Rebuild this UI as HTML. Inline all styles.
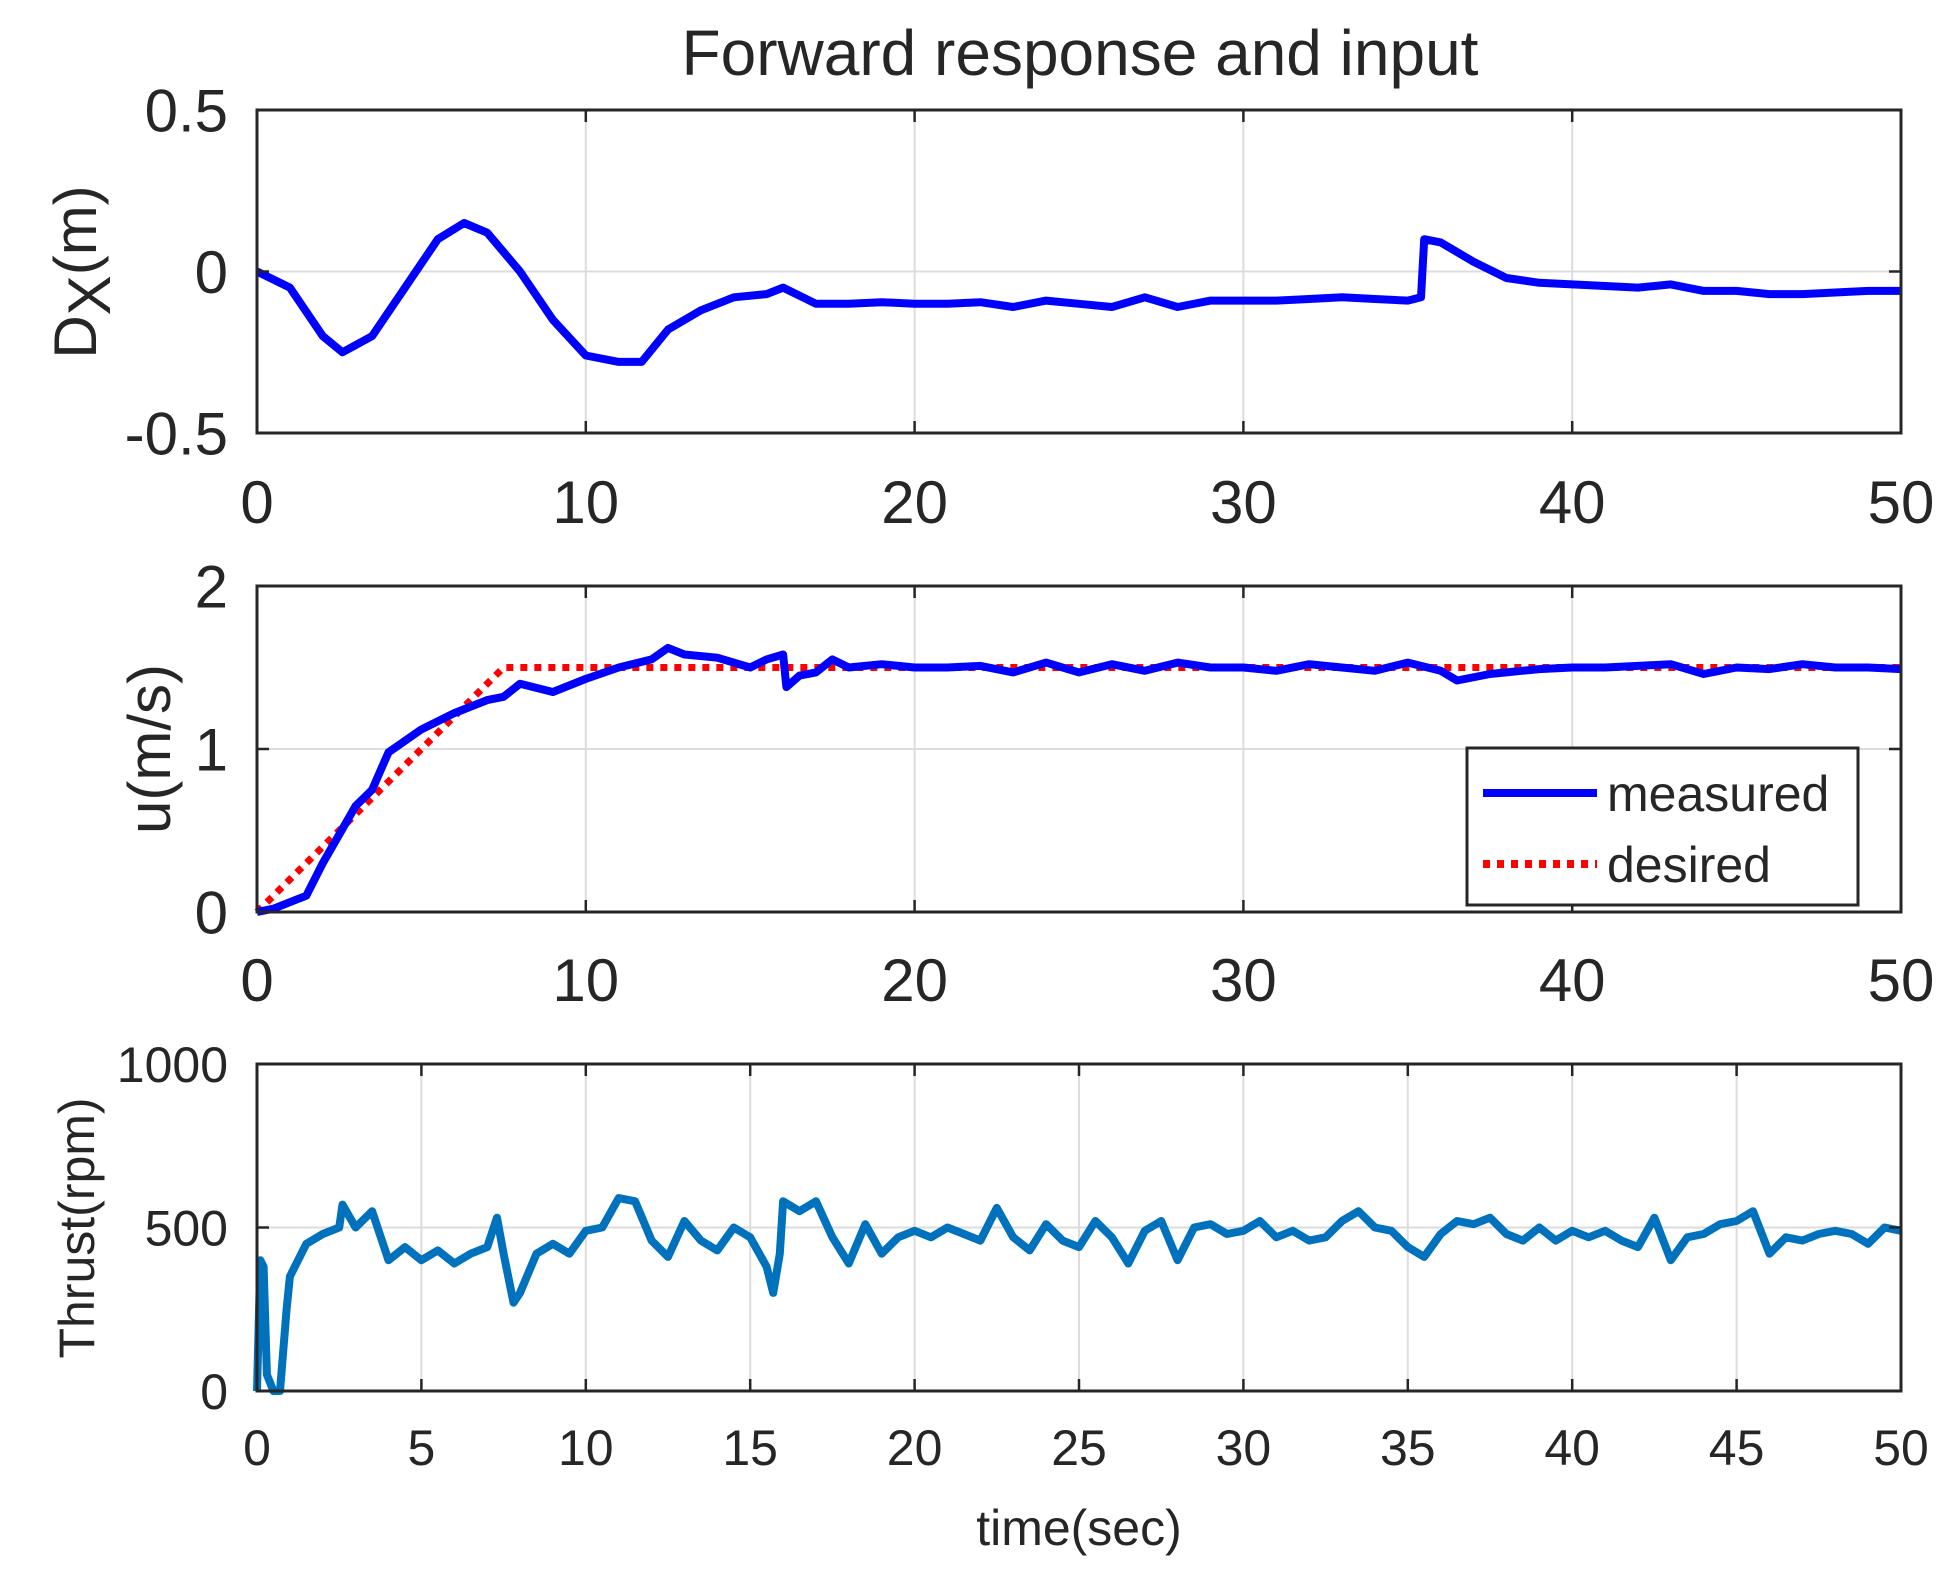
<!DOCTYPE html>
<html><head><meta charset="utf-8"><style>
html,body{margin:0;padding:0;background:#fff}
svg{display:block}
text{font-family:"Liberation Sans",Arial,sans-serif;fill:#262626}
</style></head><body>
<svg id="fig" width="1953" height="1574" viewBox="0 0 1953 1574">
<text x="1080" y="75" font-size="64" text-anchor="middle">Forward response and input</text>
<text x="1079" y="1545" font-size="50" text-anchor="middle">time(sec)</text>
<text transform="translate(96,272) rotate(-90)" font-size="60" text-anchor="middle">D<tspan font-size="60" dy="14">X</tspan><tspan dy="-14">(m)</tspan></text>
<text transform="translate(170,749) rotate(-90)" font-size="60" text-anchor="middle">u(m/s)</text>
<text transform="translate(94,1228) rotate(-90)" font-size="50" text-anchor="middle">Thrust(rpm)</text>
<g id="legend">
<rect x="1467" y="748" width="391" height="157" fill="#fff" stroke="#262626" stroke-width="3"/>
<line x1="1483" y1="793" x2="1597" y2="793" stroke="#0000ff" stroke-width="8"/>
<text x="1607" y="811" font-size="50">measured</text>
<line x1="1483" y1="864" x2="1597" y2="864" stroke="#ff0000" stroke-width="8" stroke-dasharray="7 7"/>
<text x="1607" y="882" font-size="50">desired</text>
</g>
</svg>
<script>
const dxTime=[0,1,2,2.6,3.5,4.5,5.5,6.3,7,8,9,10,11,11.7,12.5,13.5,14.5,15.5,16,17,18,19,20,21,22,23,24,25,26,27,28,29,30,31,32,33,34,35,35.4,35.5,36,37,38,39,40,41,42,43,44,45,46,47,48,49,50];
const dxValues=[0,-0.05,-0.2,-0.25,-0.2,-0.05,0.1,0.15,0.12,0,-0.15,-0.26,-0.28,-0.28,-0.18,-0.12,-0.08,-0.07,-0.05,-0.1,-0.1,-0.095,-0.1,-0.1,-0.095,-0.11,-0.09,-0.1,-0.11,-0.08,-0.11,-0.09,-0.09,-0.09,-0.085,-0.08,-0.085,-0.09,-0.08,0.1,0.09,0.03,-0.02,-0.035,-0.04,-0.045,-0.05,-0.04,-0.06,-0.06,-0.07,-0.07,-0.065,-0.06,-0.06];
const uTime=[0,0.5,1.5,2,3,3.5,4,5,6,7,7.5,8,9,10,11,12,12.5,13,14,15,15.5,16,16.1,16.5,17,17.5,18,19,20,21,22,23,24,25,26,27,28,29,30,31,32,33,34,35,36,36.5,37.5,39,40,41,42,43,44,45,46,47,48,49,50];
const uMeasured=[0,0.02,0.1,0.3,0.65,0.75,0.98,1.12,1.22,1.3,1.32,1.4,1.35,1.43,1.5,1.55,1.62,1.58,1.56,1.5,1.55,1.58,1.38,1.45,1.47,1.55,1.5,1.52,1.5,1.5,1.51,1.47,1.53,1.47,1.52,1.48,1.53,1.5,1.5,1.48,1.52,1.5,1.48,1.53,1.48,1.42,1.46,1.49,1.5,1.5,1.51,1.52,1.46,1.5,1.49,1.52,1.5,1.5,1.49];
const uDesiredTime=[0,7.5,50];
const uDesired=[0,1.5,1.5];
const thrustTime=[0,0.1,0.2,0.3,0.5,0.7,0.9,1,1.5,2,2.5,2.6,3,3.5,4,4.5,5,5.5,6,6.5,7,7.3,7.5,7.8,8,8.5,9,9.5,10,10.5,11,11.5,12,12.5,13,13.5,14,14.5,15,15.5,15.7,15.9,16,16.5,17,17.5,18,18.5,19,19.5,20,20.5,21,21.5,22,22.5,23,23.5,24,24.5,25,25.5,26,26.5,27,27.5,28,28.5,29,29.5,30,30.5,31,31.5,32,32.5,33,33.5,34,34.5,35,35.5,36,36.5,37,37.5,38,38.5,39,39.5,40,40.5,41,41.5,42,42.5,43,43.5,44,44.5,45,45.5,46,46.5,47,47.5,48,48.5,49,49.5,50];
const thrustValues=[0,400,380,50,0,0,250,350,450,480,500,570,500,550,400,440,400,430,390,420,440,530,420,270,300,420,450,420,490,500,590,580,460,410,520,460,430,500,470,380,300,420,580,550,580,470,390,510,420,470,490,470,500,480,460,560,470,430,510,460,440,520,470,390,490,520,400,500,510,480,490,520,470,490,460,470,520,550,500,490,440,410,480,520,510,530,480,460,500,460,490,470,490,460,440,530,400,470,480,510,520,550,420,470,460,480,490,480,450,500,490];
const p1Ticks=[0.5,0,-0.5], p1TickLabels=["0.5","0","-0.5"];
const p2Ticks=[0,1,2], p2TickLabels=["0","1","2"];
const p3Ticks=[0,500,1000], p3TickLabels=["0","500","1000"];
const xTicks10=[0,10,20,30,40,50];
const xTicks5=[0,5,10,15,20,25,30,35,40,45,50];

const NS="http://www.w3.org/2000/svg";
const svg=document.getElementById('fig');
const legend=document.getElementById('legend');
function mk(tag,attrs,parent){
  const e=document.createElementNS(NS,tag);
  for(const k in attrs)e.setAttribute(k,attrs[k]);
  if(parent)parent.appendChild(e);else svg.insertBefore(e,legend);
  return e;
}
const L=257,R=1901;
function panel(name,top,bot,ymin,ymax,yt,ytl,xt,fs,xlabY,series){
  const g=mk('g',{});
  
  
  const sx=t=>L+(t/50)*(R-L);
  const sy=v=>bot-(v-ymin)/(ymax-ymin)*(bot-top);
  xt.forEach(t=>{
    const gl=mk('line',{x1:sx(t),x2:sx(t),y1:top,y2:bot,stroke:'#dcdcdc','stroke-width':2},g);
    
    
    const lb=mk('text',{x:sx(t),y:xlabY,'font-size':fs,'text-anchor':'middle'},g);
    lb.textContent=String(t);
    
    
  });
  yt.forEach((v,i)=>{
    const gl=mk('line',{x1:L,x2:R,y1:sy(v),y2:sy(v),stroke:'#dcdcdc','stroke-width':2},g);
    
    
    const lb=mk('text',{x:228,y:sy(v)+fs*0.36,'font-size':fs,'text-anchor':'end'},g);
    lb.textContent=ytl[i];
    
    
  });
  series.forEach(s=>{
    const d=s.t.map((t,i)=>(i?'L':'M')+sx(t).toFixed(1)+' '+sy(s.v[i]).toFixed(1)).join(' ');
    const p=mk('path',{d:d,fill:'none',stroke:s.c,'stroke-width':s.w,'stroke-linejoin':'round','stroke-dasharray':s.dash||'none'},g);
    
    
  });
  let tk='';
  xt.forEach(t=>{tk+=`M${sx(t)} ${bot}V${bot-12}M${sx(t)} ${top}V${top+12}`;});
  yt.forEach(v=>{tk+=`M${L} ${sy(v)}H${L+12}M${R} ${sy(v)}H${R-12}`;});
  const ticks=mk('path',{d:tk,stroke:'#262626','stroke-width':2.5,fill:'none'},g);
  
  
  const box=mk('rect',{x:L,y:top,width:R-L,height:bot-top,fill:'none',stroke:'#262626','stroke-width':3},g);
  
  
}
panel('dx',110,433,-0.5,0.5,p1Ticks,p1TickLabels,xTicks10,60,523,[{t:dxTime,v:dxValues,c:'#0000ff',w:8,n:'dx-line'}]);
panel('u',586,912,0,2,p2Ticks,p2TickLabels,xTicks10,60,1001,[{t:uDesiredTime,v:uDesired,c:'#ff0000',w:7,dash:'7 7',n:'u-desired-line'},{t:uTime,v:uMeasured,c:'#0000ff',w:8,n:'u-measured-line'}]);
panel('thrust',1064,1391,0,1000,p3Ticks,p3TickLabels,xTicks5,50,1465,[{t:thrustTime,v:thrustValues,c:'#0072bd',w:8,n:'thrust-line'}]);
</script>
</body></html>
